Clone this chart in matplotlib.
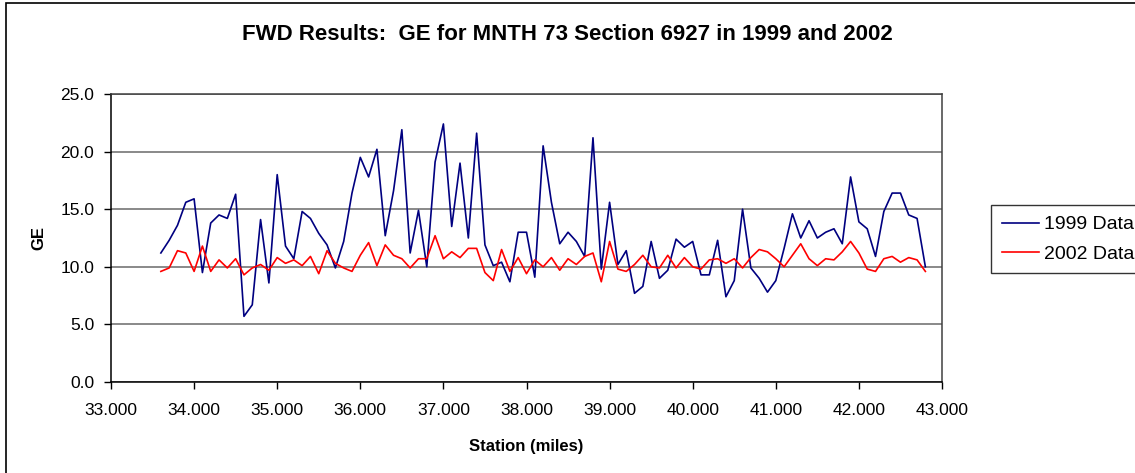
import matplotlib
matplotlib.use("Agg")
import matplotlib.pyplot as plt
from matplotlib.patches import Rectangle
from matplotlib.ticker import FormatStrFormatter

plt.rcParams["font.family"] = ["Liberation Sans", "DejaVu Sans"]

stations = [
    33.6, 33.7, 33.8, 33.9, 34.0, 34.1, 34.2, 34.3, 34.4, 34.5,
    34.6, 34.7, 34.8, 34.9, 35.0, 35.1, 35.2, 35.3, 35.4, 35.5,
    35.6, 35.7, 35.8, 35.9, 36.0, 36.1, 36.2, 36.3, 36.4, 36.5,
    36.6, 36.7, 36.8, 36.9, 37.0, 37.1, 37.2, 37.3, 37.4, 37.5,
    37.6, 37.7, 37.8, 37.9, 38.0, 38.1, 38.2, 38.3, 38.4, 38.5,
    38.6, 38.7, 38.8, 38.9, 39.0, 39.1, 39.2, 39.3, 39.4, 39.5,
    39.6, 39.7, 39.8, 39.9, 40.0, 40.1, 40.2, 40.3, 40.4, 40.5,
    40.6, 40.7, 40.8, 40.9, 41.0, 41.1, 41.2, 41.3, 41.4, 41.5,
    41.6, 41.7, 41.8, 41.9, 42.0, 42.1, 42.2, 42.3, 42.4, 42.5,
    42.6, 42.7, 42.8,
]

ge_1999 = [
    11.2, 12.3, 13.6, 15.6, 15.9, 9.5, 13.8, 14.5, 14.2, 16.3,
    5.7, 6.7, 14.1, 8.6, 18.0, 11.8, 10.7, 14.8, 14.2, 12.9,
    11.9, 9.9, 12.2, 16.4, 19.5, 17.8, 20.2, 12.7, 16.6, 21.9,
    11.2, 14.9, 10.0, 19.1, 22.4, 13.5, 19.0, 12.5, 21.6, 11.9,
    10.1, 10.4, 8.7, 13.0, 13.0, 9.1, 20.5, 15.6, 12.0, 13.0,
    12.2, 10.9, 21.2, 9.8, 15.6, 10.2, 11.4, 7.7, 8.3, 12.2,
    9.0, 9.7, 12.4, 11.7, 12.2, 9.3, 9.3, 12.3, 7.4, 8.8,
    15.0, 9.9, 9.0, 7.8, 8.8, 11.6, 14.6, 12.5, 14.0, 12.5,
    13.0, 13.3, 12.0, 17.8, 13.9, 13.3, 10.9, 14.8, 16.4, 16.4,
    14.5, 14.2, 10.0,
]

ge_2002 = [
    9.6, 9.9, 11.4, 11.2, 9.6, 11.8, 9.6, 10.6, 9.9, 10.7,
    9.3, 9.9, 10.2, 9.7, 10.8, 10.3, 10.6, 10.1, 10.9, 9.4,
    11.4, 10.3, 9.9, 9.6, 11.0, 12.1, 10.1, 11.9, 11.0, 10.7,
    9.9, 10.7, 10.7, 12.7, 10.7, 11.3, 10.8, 11.6, 11.6, 9.5,
    8.8, 11.5, 9.6, 10.8, 9.4, 10.6, 10.0, 10.8, 9.7, 10.7,
    10.2, 10.9, 11.2, 8.7, 12.2, 9.8, 9.6, 10.2, 11.0, 10.0,
    9.9, 11.0, 9.9, 10.8, 10.0, 9.8, 10.6, 10.7, 10.3, 10.7,
    9.9, 10.8, 11.5, 11.3, 10.7, 10.0, 11.0, 12.0, 10.7, 10.1,
    10.7, 10.6, 11.3, 12.2, 11.2, 9.8, 9.6, 10.7, 10.9, 10.4,
    10.8, 10.6, 9.6,
]

x_ticks = [33, 34, 35, 36, 37, 38, 39, 40, 41, 42, 43]
y_ticks = [0, 5, 10, 15, 20, 25]

W, H = 1135, 473
fig = plt.figure(figsize=(W / 100, H / 100), dpi=100)
ax = fig.add_axes([111 / W, 1 - 382 / H, (942 - 111) / W, (382 - 94) / H])

# outer chart border (cut off on the right and bottom like the original)
fig.patches.append(Rectangle((6 / W, -0.05), 1.2, 1.05 - 3 / H,
                             transform=fig.transFigure, fill=False,
                             edgecolor="black", lw=1.2))

ax.plot(stations, ge_1999, color="#000080", lw=1.2, label="1999 Data")
ax.plot(stations, ge_2002, color="#FF0000", lw=1.2, label="2002 Data")

ax.set_xlim(33, 43)
ax.set_ylim(0, 25)
ax.set_xticks(x_ticks)
ax.set_yticks(y_ticks)
ax.xaxis.set_major_formatter(FormatStrFormatter("%.3f"))
ax.yaxis.set_major_formatter(FormatStrFormatter("%.1f"))
ax.tick_params(axis="both", direction="out", length=5, width=1, labelsize=12.5, colors="black")
ax.tick_params(axis="x", pad=10)
ax.tick_params(axis="y", pad=7)

ax.grid(axis="y", color="#808080", lw=1.3)
ax.set_axisbelow(True)
for side in ["left", "bottom"]:
    ax.spines[side].set_color("black")
    ax.spines[side].set_linewidth(1.1)
for side in ["top", "right"]:
    ax.spines[side].set_color("#404040")
    ax.spines[side].set_linewidth(1.1)

ax.set_xlabel("Station (miles)", fontsize=12, fontweight="bold", labelpad=15)
ax.set_ylabel("GE", fontsize=12, fontweight="bold", labelpad=10)
fig.text(0.5, 1 - 35 / H, "FWD Results:  GE for MNTH 73 Section 6927 in 1999 and 2002",
         ha="center", va="center", fontsize=16, fontweight="bold")

leg = fig.legend(loc="upper left", bbox_to_anchor=(991 / W, 1 - 205 / H),
                 fontsize=14, frameon=True, fancybox=False, handlelength=1.9,
                 handletextpad=0.3, borderpad=0.55, labelspacing=0.6, borderaxespad=0)
leg.get_frame().set_edgecolor("black")
leg.get_frame().set_linewidth(1.0)

fig.savefig("out.png", dpi=100)
